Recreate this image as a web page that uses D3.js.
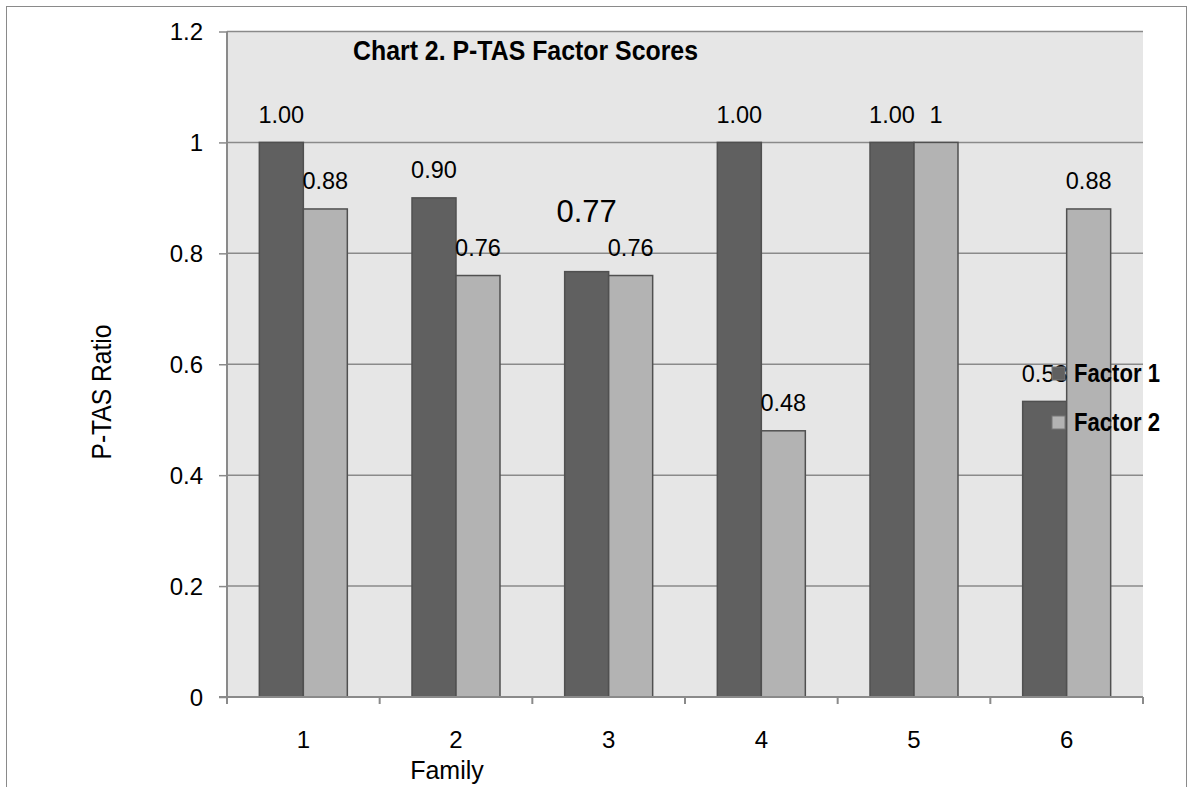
<!DOCTYPE html>
<html>
<head>
<meta charset="utf-8">
<script src="https://cdn.jsdelivr.net/npm/d3@7/dist/d3.min.js"></script>
<style>
    body { margin: 0; background: #fff; }
    svg text { font-family: "Liberation Sans", Arial, sans-serif; fill: #000; }
</style>
</head>
<body>
<svg id="chart" width="1188" height="787"></svg>
<script>
// Chart data
const families = ["1", "2", "3", "4", "5", "6"];
const seriesNames = ["Factor 1", "Factor 2"];
const factor1 = [1.00, 0.90, 0.767, 1.00, 1.00, 0.533];
const factor2 = [0.88, 0.76, 0.76, 0.48, 1.00, 0.88];
const factor1Labels = ["1.00", "0.90", "0.77", "1.00", "1.00", "0.53"];
const factor2Labels = ["0.88", "0.76", "0.76", "0.48", "1", "0.88"];
const yTicks = [0, 0.2, 0.4, 0.6, 0.8, 1, 1.2];

const colors = ["#606060", "#b3b3b3"];

const svg = d3.select('#chart');

// outer frame
svg.append('rect')
    .attr('x', 6.5).attr('y', 6.5)
    .attr('width', 1180).attr('height', 820)
    .attr('fill', 'none')
    .attr('stroke', '#8a8a8a')
    .attr('stroke-width', 1);

const plot = {left: 227, right: 1143, top: 31.5, bottom: 697};

const y = d3.scaleLinear()
    .domain([0, 1.2])
    .range([plot.bottom, plot.top]);

const x0 = d3.scaleBand()
    .domain(families)
    .range([plot.left, plot.right])
    .paddingInner(0).paddingOuter(0);

const x1 = d3.scaleBand()
    .domain(seriesNames)
    .range([0, x0.bandwidth()])
    .paddingInner(0)
    .paddingOuter(0.735);

// plot background
svg.append('rect')
    .attr('x', plot.left).attr('y', plot.top)
    .attr('width', plot.right - plot.left)
    .attr('height', plot.bottom - plot.top)
    .attr('fill', '#e6e6e6');

// y axis with gridlines
const yAxis = svg.append('g')
    .attr('transform', `translate(${plot.left},0)`)
    .call(d3.axisLeft(y).tickValues(yTicks).tickSize(8).tickPadding(16)
        .tickFormat(d => d3.format('')(d)));
yAxis.select('.domain').remove();
yAxis.selectAll('.tick line').attr('stroke', '#8a8a8a').attr('stroke-width', 1.5);
yAxis.selectAll('.tick text')
    .style('font-size', '24px')
    .attr('dy', '0.34em');

svg.append('g')
    .selectAll('line')
    .data(yTicks.filter(d => d > 0))
    .enter()
    .append('line')
    .attr('x1', plot.left).attr('x2', plot.right)
    .attr('y1', d => y(d)).attr('y2', d => y(d))
    .attr('stroke', '#8a8a8a')
    .attr('stroke-width', 1.5);

// bars
const rows = families.map((f, i) => ({
    family: f,
    values: [
        {key: seriesNames[0], value: factor1[i], label: factor1Labels[i], s: 0, i: i},
        {key: seriesNames[1], value: factor2[i], label: factor2Labels[i], s: 1, i: i}
    ]
}));

const groups = svg.append('g')
    .selectAll('g')
    .data(rows)
    .enter()
    .append('g')
    .attr('transform', d => `translate(${x0(d.family)},0)`);

groups.selectAll('rect')
    .data(d => d.values)
    .enter()
    .append('rect')
    .attr('x', d => x1(d.key))
    .attr('y', d => y(d.value))
    .attr('width', x1.bandwidth())
    .attr('height', d => y(0) - y(d.value))
    .attr('fill', d => colors[d.s])
    .attr('stroke', '#505050')
    .attr('stroke-width', 1.5);

// data labels
groups.selectAll('text')
    .data(d => d.values)
    .enter()
    .append('text')
    .attr('x', d => x1(d.key) + x1.bandwidth() / 2)
    .attr('y', d => (d.s === 0 && d.i === 2) ? y(d.value) - 50 : y(d.value) - 19.5)
    .attr('text-anchor', 'middle')
    .style('font-size', d => (d.s === 0 && d.i === 2) ? '31px' : '23.5px')
    .text(d => d.label);

// x axis
const xAxisLine = svg.append('g');
xAxisLine.append('line')
    .attr('x1', plot.left - 8).attr('x2', plot.right)
    .attr('y1', plot.bottom).attr('y2', plot.bottom)
    .attr('stroke', '#8a8a8a').attr('stroke-width', 2);
xAxisLine.append('line')
    .attr('x1', plot.left).attr('x2', plot.left)
    .attr('y1', plot.top).attr('y2', plot.bottom + 7)
    .attr('stroke', '#8a8a8a').attr('stroke-width', 2);

const boundaries = families.map(f => x0(f)).concat([plot.right]);
xAxisLine.selectAll('line.tk')
    .data(boundaries)
    .enter()
    .append('line')
    .attr('class', 'tk')
    .attr('x1', d => d).attr('x2', d => d)
    .attr('y1', plot.bottom).attr('y2', plot.bottom + 7)
    .attr('stroke', '#8a8a8a').attr('stroke-width', 2);

svg.append('g')
    .selectAll('text')
    .data(families)
    .enter()
    .append('text')
    .attr('x', d => x0(d) + x0.bandwidth() / 2)
    .attr('y', 748)
    .attr('text-anchor', 'middle')
    .style('font-size', '24px')
    .text(d => d);

// axis titles
svg.append('text')
    .attr('x', 447).attr('y', 779)
    .attr('text-anchor', 'middle')
    .style('font-size', '25px')
    .text('Family');

svg.append('text')
    .attr('transform', 'translate(111,392) rotate(-90)')
    .attr('text-anchor', 'middle')
    .attr('textLength', 135)
    .attr('lengthAdjust', 'spacingAndGlyphs')
    .style('font-size', '27px')
    .text('P-TAS Ratio');

// title
svg.append('text')
    .attr('x', 353).attr('y', 60)
    .attr('textLength', 345)
    .attr('lengthAdjust', 'spacingAndGlyphs')
    .style('font-size', '27px')
    .style('font-weight', 'bold')
    .text('Chart 2. P-TAS Factor Scores');

// legend
const legend = svg.append('g')
    .selectAll('g')
    .data(seriesNames)
    .enter()
    .append('g')
    .attr('transform', (d, i) => `translate(1052,${367 + i * 49})`);

legend.append('rect')
    .attr('width', 13).attr('height', 13)
    .attr('fill', (d, i) => colors[i])
    .attr('stroke', '#777')
    .attr('stroke-width', 1);

legend.append('text')
    .attr('x', 22).attr('y', 15)
    .attr('textLength', 86)
    .attr('lengthAdjust', 'spacingAndGlyphs')
    .style('font-size', '25px')
    .style('font-weight', 'bold')
    .text(d => d);
</script>
</body>
</html>
